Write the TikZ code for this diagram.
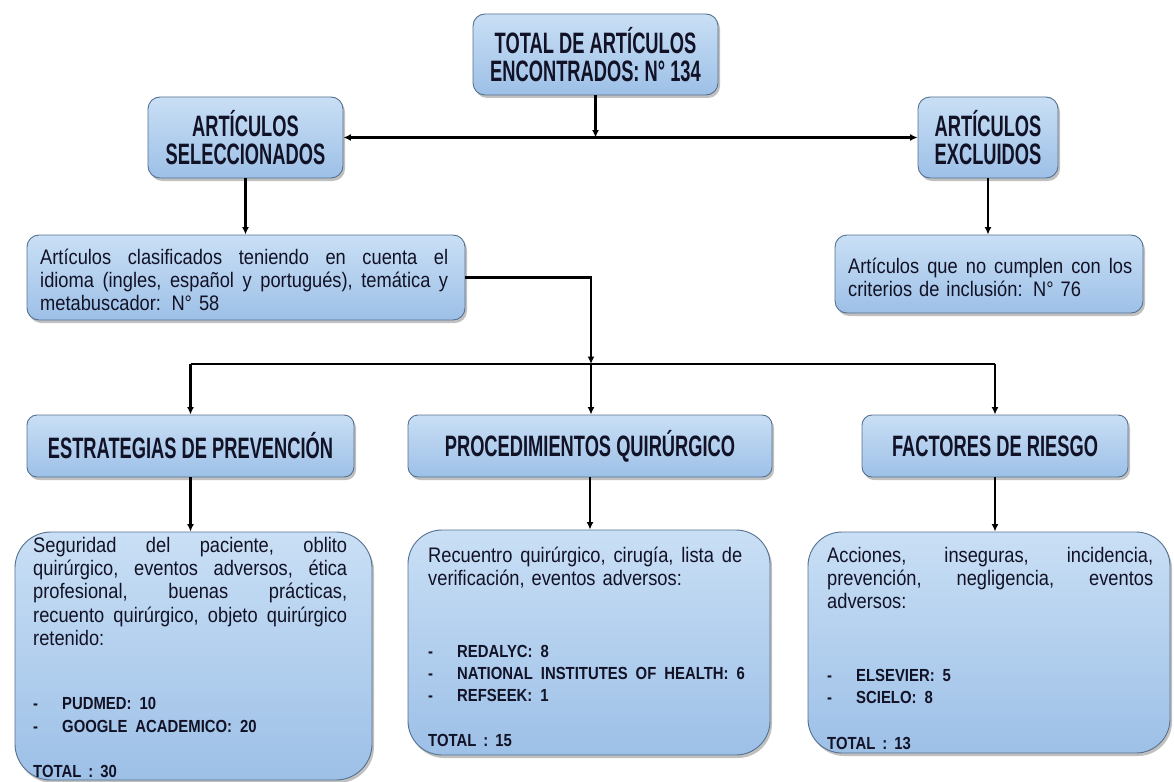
\documentclass[tikz,border=0pt]{standalone}
\usepackage{fontspec}
\setmainfont{Liberation Sans}
\newfontfamily\hfont{Liberation Sans}[FakeStretch=0.62]
\newfontfamily\bfontn{Liberation Sans}[FakeStretch=0.87]
\newfontfamily\lfontn{Liberation Sans}[FakeStretch=0.85]
\usetikzlibrary{arrows.meta,shadows,calc}
\definecolor{boxtop}{HTML}{C9DFF5}
\definecolor{boxbot}{HTML}{9DC0E7}
\definecolor{boxline}{HTML}{56718F}
\definecolor{ink}{HTML}{121226}
\newcommand\headf{\hfont\bfseries\fontsize{29.5}{28}\selectfont}
\newcommand\bodyf{\bfontn\fontsize{21}{23.3}\selectfont}
\newcommand\lb{\lfontn\bfseries\fontsize{17.5}{23.3}\selectfont}
\newcommand\jline[2]{\leavevmode\hbox to #1{#2}}
\newcommand\gp{\hspace{8pt}}
\newcommand\dashitem[1]{\mbox{\lb\makebox[29pt][l]{-}#1}}
\begin{document}
\begin{tikzpicture}[x=1pt,y=-1pt,
  bx/.style={rectangle, draw=boxline, line width=0.9pt, top color=boxtop, bottom color=boxbot,
    drop shadow={shadow xshift=2pt, shadow yshift=-3pt, opacity=.35, fill=black!70},
    inner sep=0pt, text=ink},
  head/.style={bx, font=\headf, align=center, rounded corners=12pt},
  txt/.style={inner sep=0pt, anchor=north west, align=left, font=\bodyf, text=ink},
  line/.style={draw=black, line width=2.3pt},
  arr/.style={line, -{Latex[length=7.5pt,width=7pt]}},
  arrtwo/.style={line, {Latex[length=7.5pt,width=7pt]}-{Latex[length=7.5pt,width=7pt]}}]
\fill[white] (0,0) rectangle (1174,781);
\useasboundingbox (0,0) rectangle (1174,781);

% top row
\node[head, minimum width=245pt, minimum height=81pt] (top) at (595.5,54.5) {TOTAL DE ARTÍCULOS\\ENCONTRADOS: N° 134};
\node[head, minimum width=195pt, minimum height=81pt] (sel) at (245.5,137.5) {ARTÍCULOS\\SELECCIONADOS};
\node[head, minimum width=140pt, minimum height=81pt] (excl) at (988,137.5) {ARTÍCULOS\\EXCLUIDOS};

% second row
\node[bx, rounded corners=12pt, minimum width=438pt, minimum height=85pt] (clas) at (246,277.5) {};
\node[bx, rounded corners=12pt, minimum width=308pt, minimum height=78pt] (noinc) at (989,274) {};
\node[txt, text width=408pt] (clast) at (40,248) {\rule{0pt}{16pt}\jline{408pt}{Artículos \hfill clasificados \hfill teniendo \hfill en \hfill cuenta \hfill el}\\
\jline{408pt}{idioma \hfill (ingles, \hfill español \hfill y \hfill portugués), \hfill temática \hfill y}\\
metabuscador: N° 58};
\node[txt, text width=284pt] (noinct) at (848,257) {\rule{0pt}{16pt}\jline{284pt}{Artículos \hfill que \hfill no \hfill cumplen \hfill con \hfill los}\\
criterios de inclusión: N° 76};

% categories
\node[head, rounded corners=10pt, minimum width=327pt, minimum height=62pt] (cat1) at (190.5,446) {ESTRATEGIAS DE PREVENCIÓN};
\node[head, rounded corners=10pt, minimum width=364pt, minimum height=62pt] (cat2) at (590,446) {PROCEDIMIENTOS QUIRÚRGICO};
\node[head, rounded corners=10pt, minimum width=266pt, minimum height=62pt] (cat3) at (995,446) {FACTORES DE RIESGO};

% bottom boxes
\node[bx, rounded corners=36pt, minimum width=357pt, minimum height=248pt] (bot1) at (193.5,656) {};
\node[bx, rounded corners=34pt, minimum width=362pt, minimum height=225pt] (bot2) at (589,642.5) {};
\node[bx, rounded corners=34pt, minimum width=362pt, minimum height=221pt] (bot3) at (989,642.5) {};

\node[txt, text width=314pt] (bot1t) at (33,536) {\rule{0pt}{16pt}\jline{314pt}{Seguridad \hfill del \hfill paciente, \hfill oblito}\\
\jline{314pt}{quirúrgico, \hfill eventos \hfill adversos, \hfill ética}\\
\jline{314pt}{profesional, \hfill buenas \hfill prácticas,}\\
\jline{314pt}{recuento \hfill quirúrgico, \hfill objeto \hfill quirúrgico}\\
retenido:\\[40.7pt]
\dashitem{PUDMED:\gp 10}\\
\dashitem{GOOGLE\gp ACADEMICO:\gp 20}\\[21.7pt]
{\lb TOTAL : 30}};

\node[txt, text width=314pt] (bot2t) at (428,546) {\rule{0pt}{16pt}\jline{314pt}{Recuentro \hfill quirúrgico, \hfill cirugía, \hfill lista \hfill de}\\
verificación, eventos adversos:\\[48.2pt]
\dashitem{REDALYC:\gp 8}\\[-1.3pt]
\dashitem{NATIONAL\gp INSTITUTES\gp OF\gp HEALTH:\gp 6}\\[-1.3pt]
\dashitem{REFSEEK:\gp 1}\\[21.7pt]
{\lb TOTAL : 15}};

\node[txt, text width=326pt] (bot3t) at (827,546) {\rule{0pt}{16pt}\jline{326pt}{Acciones, \hfill inseguras, \hfill incidencia,}\\
\jline{326pt}{prevención, \hfill negligencia, \hfill eventos}\\
adversos:\\[49.2pt]
\dashitem{ELSEVIER:\gp 5}\\[-1.3pt]
\dashitem{SCIELO:\gp 8}\\[22.7pt]
{\lb TOTAL : 13}};

% connectors
\coordinate (j1) at (595.5,137.5);
\coordinate (h2) at (591,364);
\draw[arr] (top.south) -- (j1);
\draw[arrtwo] (sel.east) -- (excl.west);
\draw[arr] (sel.south) -- (sel.south |- clas.north);
\draw[arr] (excl.south) -- (excl.south |- noinc.north);
\draw[arr] (clas.east) -| (h2);
\draw[arr] (h2) -- (h2 |- cat2.north);
\draw[line] (h2 -| cat1.north) -- (h2 -| cat3.north);
\draw[arr] (h2 -| cat1.north) -- (cat1.north);
\draw[arr] (h2 -| cat3.north) -- (cat3.north);
\draw[arr] (cat1.south) -- (cat1.south |- bot1.north);
\draw[arr] (cat2.south) -- (cat2.south |- bot2.north);
\draw[arr] (cat3.south) -- (cat3.south |- bot3.north);
\end{tikzpicture}
\end{document}
